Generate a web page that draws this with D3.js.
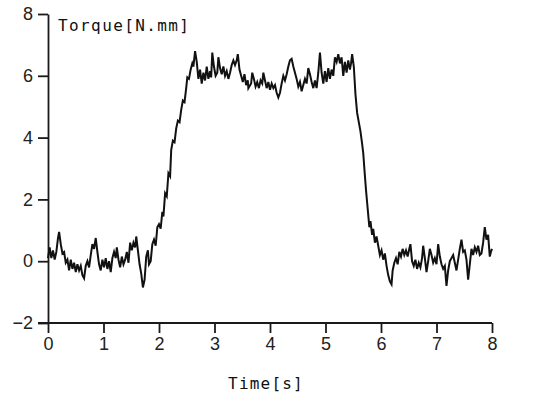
<!DOCTYPE html>
<html>
<head>
<meta charset="utf-8">
<script src="https://cdn.jsdelivr.net/npm/d3@7"></script>
<style>
  body { margin: 0; background: #fff; }
</style>
</head>
<body>
<div id="chart"></div>
<script>
var figw = 540
var figh = 402

// axis setup
var xDomain = [0, 8]
var yDomain = [-2, 8]
var xTicks = [0, 1, 2, 3, 4, 5, 6, 7, 8]
var yTicks = [-2, 0, 2, 4, 6, 8]
var yTitle = "Torque[N.mm]"
var xTitle = "Time[s]"

// torque signal: [time s, torque N.mm]
var rise = [
  [0.00, 0.1], [0.03, 0.45], [0.06, 0.1], [0.09, 0.35], [0.12, 0.05], [0.15, 0.3],
  [0.18, 0.75], [0.20, 0.95], [0.23, 0.55], [0.26, 0.25], [0.29, 0.3], [0.32, -0.05],
  [0.35, 0.05], [0.38, -0.3], [0.41, 0.05], [0.44, -0.25], [0.47, -0.05], [0.50, -0.35],
  [0.53, -0.1], [0.56, -0.3], [0.59, -0.15], [0.62, -0.45], [0.65, -0.55], [0.68, -0.15],
  [0.71, 0.0], [0.74, -0.2], [0.77, 0.2], [0.80, 0.55], [0.83, 0.4], [0.86, 0.75],
  [0.89, 0.3], [0.92, -0.1], [0.95, -0.3], [0.98, 0.05], [1.01, -0.2], [1.04, 0.1],
  [1.07, -0.25], [1.10, 0.0], [1.13, -0.35], [1.16, 0.1], [1.19, 0.3], [1.22, 0.1],
  [1.24, 0.45], [1.27, 0.05], [1.30, -0.2], [1.33, 0.15], [1.36, -0.1], [1.39, 0.05],
  [1.42, 0.3], [1.45, -0.05], [1.48, 0.6], [1.51, 0.35], [1.54, 0.6], [1.57, 0.45],
  [1.59, 0.8], [1.62, 0.35], [1.65, -0.1], [1.68, -0.4], [1.71, -0.85], [1.74, -0.6],
  [1.77, 0.15], [1.80, 0.35], [1.82, -0.1], [1.85, 0.0], [1.88, 0.55], [1.91, 0.7],
  [1.94, 0.5], [1.97, 1.1], [2.00, 1.2], [2.03, 1.05], [2.06, 1.6], [2.08, 1.45],
  [2.11, 2.2], [2.14, 2.1], [2.17, 2.85], [2.20, 2.75], [2.22, 3.6], [2.25, 3.9],
  [2.28, 3.85], [2.31, 4.3], [2.34, 4.55], [2.37, 4.5], [2.40, 4.9], [2.43, 5.2],
  [2.46, 5.15], [2.49, 5.6], [2.51, 5.95], [2.54, 5.9], [2.57, 6.2], [2.60, 6.4],
  [2.62, 6.3], [2.65, 6.8], [2.68, 6.45]
]

var plateau = [
  [2.71, 5.9], [2.74, 6.2], [2.77, 5.75], [2.80, 6.1], [2.83, 5.85], [2.86, 6.3],
  [2.89, 5.9], [2.92, 6.15], [2.94, 5.95], [2.96, 6.75], [2.99, 6.3], [3.02, 6.0],
  [3.05, 6.1], [3.07, 6.6], [3.10, 6.25], [3.13, 6.05], [3.16, 6.3], [3.19, 6.0],
  [3.22, 6.15], [3.25, 5.9], [3.28, 6.1], [3.31, 6.35], [3.34, 6.5], [3.37, 6.35],
  [3.40, 6.5], [3.42, 6.7], [3.45, 6.2], [3.48, 6.0], [3.51, 5.8], [3.54, 6.05],
  [3.57, 5.7], [3.60, 5.85], [3.61, 5.6], [3.66, 5.75], [3.68, 6.1], [3.71, 5.9],
  [3.74, 5.65], [3.77, 5.8], [3.80, 5.6], [3.83, 5.85], [3.86, 5.75], [3.88, 6.1],
  [3.91, 5.85], [3.94, 5.6], [3.97, 5.8], [4.00, 5.55], [4.03, 5.75], [4.06, 5.6],
  [4.09, 5.7], [4.12, 5.45], [4.15, 5.3], [4.18, 5.45], [4.21, 5.75], [4.24, 6.0],
  [4.27, 5.85], [4.30, 6.05], [4.33, 6.3], [4.36, 6.5], [4.39, 6.55], [4.42, 6.3],
  [4.45, 6.1], [4.48, 5.9], [4.51, 5.65], [4.54, 5.8], [4.57, 5.5], [4.60, 5.7],
  [4.63, 5.9], [4.66, 5.75], [4.69, 6.25], [4.72, 6.05], [4.75, 5.8], [4.78, 5.6],
  [4.81, 5.85], [4.84, 5.6], [4.87, 6.1], [4.90, 6.75], [4.93, 6.1], [4.96, 5.75],
  [4.99, 6.15], [5.02, 5.8], [5.05, 6.25], [5.08, 5.9], [5.11, 6.2], [5.14, 6.0],
  [5.17, 6.6], [5.20, 6.45], [5.23, 6.7], [5.26, 6.4], [5.29, 6.6], [5.32, 6.0],
  [5.35, 6.45], [5.38, 6.1], [5.41, 6.5], [5.44, 6.2], [5.46, 6.4], [5.48, 6.7],
  [5.51, 6.3]
]

var fall = [
  [5.54, 5.4], [5.57, 4.8], [5.60, 4.5], [5.63, 4.2], [5.66, 3.8], [5.68, 3.5],
  [5.70, 3.0], [5.73, 2.3], [5.75, 1.9], [5.77, 1.5], [5.79, 1.1], [5.81, 1.3],
  [5.84, 0.85], [5.86, 1.05], [5.89, 0.6], [5.92, 0.8], [5.95, 0.5], [5.98, 0.2],
  [6.01, 0.35], [6.04, 0.05], [6.07, 0.25], [6.10, -0.15], [6.13, -0.45], [6.16, -0.65],
  [6.19, -0.75], [6.21, -0.3], [6.24, -0.05], [6.27, 0.1], [6.30, -0.1], [6.33, 0.3],
  [6.36, 0.15], [6.39, 0.4], [6.42, 0.2], [6.45, 0.35], [6.48, 0.15], [6.51, 0.4],
  [6.53, 0.55], [6.56, 0.0], [6.59, -0.15], [6.62, 0.05], [6.65, -0.25], [6.68, -0.05],
  [6.71, -0.2], [6.74, 0.1], [6.76, 0.5], [6.79, 0.1], [6.82, -0.35], [6.85, 0.0],
  [6.88, 0.4], [6.91, 0.2], [6.94, -0.05], [6.97, 0.1], [7.00, -0.1], [7.03, 0.55],
  [7.06, 0.15], [7.09, -0.1], [7.12, -0.25], [7.15, -0.15], [7.18, -0.8], [7.21, -0.3],
  [7.24, 0.0], [7.27, 0.1], [7.30, 0.2], [7.33, -0.05], [7.36, -0.3], [7.39, 0.05],
  [7.42, 0.4], [7.45, 0.7], [7.48, 0.3], [7.51, 0.35], [7.54, 0.05], [7.57, -0.6],
  [7.60, -0.1], [7.63, 0.4], [7.66, 0.2], [7.69, 0.45], [7.72, 0.3], [7.75, 0.5],
  [7.78, 0.2], [7.81, 0.25], [7.84, 0.6], [7.87, 1.1], [7.90, 0.7], [7.93, 0.85],
  [7.96, 0.15], [7.98, 0.3], [8.00, 0.4]
]

var data = rise.concat(plateau, fall)

// dimensions and margins
var margin = {top: 14, right: 48, bottom: 79, left: 48},
    width = figw - margin.left - margin.right,
    height = figh - margin.top - margin.bottom;

var svg = d3.select("#chart")
  .append("svg")
    .attr("width", figw)
    .attr("height", figh)
  .append("g")
    .attr("transform", "translate(" + margin.left + "," + margin.top + ")");

var x = d3.scaleLinear().domain(xDomain).range([0, width])
var y = d3.scaleLinear().domain(yDomain).range([height, 0])

var xAxis = svg.append("g")
  .attr("transform", "translate(0," + height + ")")
  .call(d3.axisBottom(x).tickValues(xTicks).tickSize(10).tickPadding(4).tickSizeOuter(0))

var yAxis = svg.append("g")
  .call(d3.axisLeft(y).tickValues(yTicks).tickSize(10).tickPadding(5).tickSizeOuter(0))

// extend x axis line to the -2 tick like the original
xAxis.select(".domain").attr("d", "M-10,0H" + width)

svg.selectAll(".domain, .tick line")
  .attr("stroke", "#1a1a1a")
  .attr("stroke-width", 1.8)
svg.selectAll(".tick text")
  .attr("font-family", "Liberation Sans, Arial, sans-serif")
  .attr("font-size", 18)
  .attr("fill", "#222")

// curve
svg.append("path")
  .datum(data)
  .attr("fill", "none")
  .attr("stroke", "#111")
  .attr("stroke-width", 2)
  .attr("stroke-linejoin", "miter")
  .attr("d", d3.line()
    .x(function (d) { return x(d[0]) })
    .y(function (d) { return y(d[1]) }))

// axis titles
svg.append("text")
  .attr("x", 10)
  .attr("y", 17)
  .attr("font-family", "DejaVu Sans Mono, monospace")
  .attr("font-size", 16)
  .attr("letter-spacing", 1.4)
  .attr("fill", "#111")
  .text(yTitle)

svg.append("text")
  .attr("x", width / 2 - 4)
  .attr("y", height + 66)
  .attr("text-anchor", "middle")
  .attr("font-family", "DejaVu Sans Mono, monospace")
  .attr("font-size", 16)
  .attr("letter-spacing", 1.2)
  .attr("fill", "#111")
  .text(xTitle)
</script>
</body>
</html>
